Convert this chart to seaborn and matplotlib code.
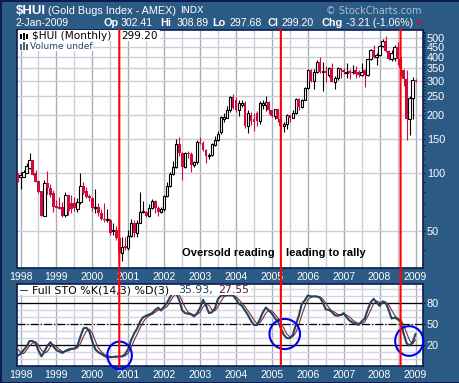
import matplotlib
matplotlib.use('Agg')
import matplotlib.pyplot as plt
import matplotlib.transforms as mtrans
import numpy as np
import pandas as pd
import seaborn as sns
from matplotlib.patches import ConnectionPatch, Ellipse, Rectangle

# monthly bars, Dec 1997 to Jan 2009
opens = [100,
    95, 96, 100, 107, 117, 100, 91, 81, 60, 89, 84, 79,
    68, 67, 67, 61, 77, 70, 70, 65, 71, 86, 81, 76,
    74, 66, 67, 62, 58, 57, 57.5, 50, 51, 46, 38.5, 42,
    41, 47.5, 55.5, 49, 55.5, 63, 63, 60, 66, 72, 66, 63,
    65, 76.5, 86, 99, 108, 141, 127, 108, 127, 126, 110, 114,
    145, 143, 132, 123, 124, 140, 149, 163, 190, 194, 212, 247,
    239, 212, 225, 232, 175, 200, 190, 205, 186, 225, 226, 233,
    213, 198, 214, 190, 176, 180, 200, 194, 205, 243, 220, 240,
    276, 341, 300, 335, 375, 335, 336, 322, 350, 298, 310, 350,
    340, 331, 337, 333, 340, 335, 322, 340, 322, 388, 433, 398,
    408, 455, 482, 428, 392, 395, 450, 392, 341, 308, 191, 245,
    302.41]
highs = [100,
    102, 104, 113, 127, 117, 104, 92, 81, 92, 103, 88, 82,
    73, 75, 71, 80, 77, 77, 75, 74, 100, 90, 85, 78,
    75, 83, 70, 65, 70, 65, 58, 55, 53, 47, 47, 47,
    51, 58, 57, 57, 80, 72, 64, 69, 73.5, 73, 68, 67,
    77, 90, 102, 115, 150, 154, 128, 128, 130, 129, 116, 148,
    154, 146, 134, 127, 143, 155, 165, 197, 205, 222, 250, 258,
    248, 238, 238, 235, 212, 208, 205, 210, 235, 240, 250, 237,
    213, 216, 216, 195, 185, 203, 200, 212, 245, 245, 243, 278,
    345, 345, 345, 385, 400, 375, 360, 355, 370, 320, 355, 352,
    350, 370, 345, 362, 360, 340, 370, 345, 390, 440, 460, 420,
    458, 495, 510, 435, 435, 460, 475, 400, 345, 341, 250, 315,
    308.89]
lows = [90,
    83, 96, 100, 105, 98, 90, 79, 60, 60, 78, 75, 63,
    66, 65, 59, 59, 61, 62, 64, 63, 69, 78, 74, 72,
    64, 62, 60, 57, 56, 56, 48, 48, 45, 36, 35, 40,
    40, 47, 47, 47, 55, 62, 59, 59, 65, 62, 60, 62,
    64, 75, 85, 98, 106, 122, 92, 106, 120, 102, 108, 112,
    141, 130, 113, 118, 122, 138, 147, 160, 185, 192, 208, 214,
    208, 197, 220, 172, 162, 178, 165, 175, 180, 215, 210, 203,
    195, 190, 185, 165, 163, 170, 185, 192, 203, 212, 218, 238,
    274, 295, 272, 330, 330, 266, 297, 315, 295, 272, 305, 312,
    325, 310, 308, 325, 312, 315, 320, 280, 318, 385, 395, 362,
    405, 450, 425, 385, 380, 380, 365, 320, 282, 148, 158, 190,
    297.68]
closes = [90,
    98, 102, 109, 117, 98, 90, 80, 60, 89, 84, 77, 67,
    66, 65, 60, 77, 64, 65, 66, 71, 86, 79, 75, 74,
    66, 67, 62, 58, 57, 58, 49, 51, 46, 38.5, 41.5, 41,
    47.5, 55, 49, 55.5, 63, 63.5, 60, 66, 72, 66, 63, 65,
    76.5, 86, 99, 108, 141, 127, 108, 127, 125, 110, 114, 145,
    143, 132, 123, 124, 141, 149, 160, 195, 196, 212, 247, 217,
    212, 232, 232, 175, 205, 186, 184, 186, 230, 232, 233, 213,
    198, 214, 190, 176, 180, 200, 194, 205, 243, 220, 240, 276,
    341, 300, 335, 375, 335, 337, 330, 350, 298, 310, 350, 342,
    335, 334, 330, 335, 325, 322, 335, 322, 388, 433, 398, 410,
    455, 482, 428, 392, 420, 450, 392, 350, 308, 191, 245, 302,
    299.20]
sto_k = [4.7,
    7.6, 13, 18, 26, 26, 23, 12.3, 4, 11, 19.5, 24.3, 18,
    13, 11, 9, 12, 14, 15, 15, 19, 32, 44, 45, 39.5,
    25, 14, 10, 7.6, 4.7, 3, 3, 3.3, 3.8, 4, 4, 7.6,
    15, 27.6, 37, 44, 54, 60, 62, 64, 65.7, 70.4, 73.3, 69.5,
    75, 81, 88.5, 96.6, 94, 84.7, 70, 65.7, 65, 64, 61, 65.7,
    73, 84.7, 76, 65.7, 67, 73, 86, 90.4, 91, 91, 91, 91,
    85.7, 79, 76, 69.5, 63, 55, 49, 48.5, 57, 67, 73.8, 69.5,
    65, 58.5, 54, 44, 34.7, 30, 30, 34.7, 49, 62, 79, 83.8,
    91, 89.5, 89.5, 89.5, 88, 81, 71, 70.4, 67.6, 62.8, 62, 63,
    65.7, 59.5, 55, 52.3, 50.4, 49, 54, 57.6, 70.4, 81, 86, 81,
    76, 82.3, 81, 70.4, 58, 59.5, 57, 53.8, 37, 23, 19.5, 23.8,
    35.93]
sto_d = [15,
    10, 8, 13, 19, 23, 25, 20, 13, 9, 11, 18, 21,
    18, 14, 11, 11, 12, 14, 15, 16, 22, 32, 40, 43,
    37, 26, 16, 11, 7, 5, 4, 3, 3, 4, 4, 5,
    9, 17, 27, 36, 45, 53, 59, 62, 64, 67, 70, 71,
    73, 75, 82, 89, 93, 92, 83, 74, 67, 65, 63, 64,
    67, 75, 78, 77, 70, 69, 75, 83, 89, 91, 91, 91,
    89, 85, 80, 75, 69, 63, 56, 51, 52, 58, 66, 70,
    69, 64, 59, 52, 44, 36, 32, 32, 38, 49, 63, 75,
    85, 88, 90, 89, 89, 86, 80, 74, 69, 67, 64, 63,
    64, 63, 60, 56, 53, 51, 51, 53, 61, 70, 79, 83,
    81, 80, 80, 78, 70, 63, 58, 57, 49, 38, 27, 22,
    27.55]

years = ['1998', '1999', '2000', '2001', '2002', '2003', '2004', '2005',
         '2006', '2007', '2008', '2009']
price_ticks = [50, 100, 150, 200, 250, 300, 350, 400, 450, 500]
sto_ticks = [20, 50, 80]
signal_months = ['2000-10', '2005-04', '2008-08']

navy = '#0c1c50'
panel = '#2b5a84'
red = '#cc0d3c'

sns.set_theme(style='white')
plt.rcParams['font.family'] = ['Liberation Sans', 'DejaVu Sans']

months = pd.date_range('1997-12-01', '2009-01-01', freq='MS')
df = pd.DataFrame(dict(date=months, open=opens, high=highs, low=lows,
                       close=closes, k=sto_k, d=sto_d))
df['pos'] = np.arange(len(df))
up = df[df['close'] >= df['open']]
down = df[df['close'] < df['open']]
year_pos = df.loc[df['date'].dt.month == 1, 'pos'].to_numpy()
half_pos = df.loc[df['date'].dt.month == 7, 'pos'].to_numpy()

fig = plt.figure(figsize=(4.6, 3.83), dpi=100, facecolor=panel)
fig.patch.set_edgecolor(navy)
fig.patch.set_linewidth(2)
px = mtrans.Affine2D().scale(1, -1).translate(0, 383)


def axes_box(left, top, right, bottom):
    return [left / 460, 1 - bottom / 383, (right - left) / 460, (bottom - top) / 383]


ax1 = fig.add_axes(axes_box(16.8, 29.5, 422.7, 268.3), facecolor='white')
ax2 = fig.add_axes(axes_box(16.8, 283.8, 422.7, 366), facecolor='white')

for ax in (ax1, ax2):
    ax.set_xlim(-0.25, 135.4)
    ax.vlines(half_pos, 0, 1, transform=ax.get_xaxis_transform(), color='#ccccdc', lw=1, zorder=1)
    ax.vlines(year_pos, 0, 1, transform=ax.get_xaxis_transform(), color='#a4aebb', lw=1, zorder=1)
    ax.set_xticks(year_pos, minor=False)
    ax.set_xticks(df['pos'], minor=True)
    ax.set_xticklabels(years, color='white', fontsize=7.6)
    ax.tick_params(axis='x', which='major', length=0, pad=3)
    ax.tick_params(axis='x', which='minor', length=1.5, width=0.7, color=navy)
    ax.yaxis.tick_right()
    for spine in ax.spines.values():
        spine.set_color(navy)
        spine.set_linewidth(1.2)

# price panel
ax1.set_yscale('log')
ax1.set_ylim(32.2, 554)
ax1.set_yticks(price_ticks)
ax1.set_yticklabels([str(t) for t in price_ticks], color='white', fontsize=7.8)
ax1.yaxis.set_minor_locator(plt.FixedLocator(np.arange(40, 550, 10)))
ax1.yaxis.set_minor_formatter(plt.NullFormatter())
ax1.tick_params(axis='y', which='major', length=1.5, width=0.7, color=navy, pad=1.5)
ax1.tick_params(axis='y', which='minor', length=1.5, width=0.7, color=navy)
ax1.hlines(price_ticks, 0, 1, transform=ax1.get_yaxis_transform(), color='#ccccdc', lw=1, zorder=1)

ax1.vlines(up['pos'], up['low'], up['high'], color='black', lw=0.8, zorder=3)
ax1.vlines(down['pos'], down['low'], down['high'], color=red, lw=0.8, zorder=3)
ax1.bar(up['pos'], up['close'] - up['open'], bottom=up['open'], width=0.8,
        facecolor='white', edgecolor='black', lw=0.8, zorder=4)
ax1.bar(down['pos'], down['open'] - down['close'], bottom=down['close'], width=0.95,
        color=red, lw=0, zorder=4)
ax1.set_xlabel('')

# stochastics panel
ax2.set_ylim(-9.6, 107.5)
ax2.set_yticks(sto_ticks)
ax2.set_yticklabels([str(t) for t in sto_ticks], color='white', fontsize=7.8)
ax2.tick_params(axis='y', which='major', length=1.5, width=0.7, color=navy, pad=1.5)
ax2.hlines(np.arange(0, 110, 10), 0, 1, transform=ax2.get_yaxis_transform(), color='#d4d4e2', lw=1, zorder=1)
ax2.axhline(80, color='black', lw=0.9, zorder=2)
ax2.axhline(20, color='black', lw=0.9, zorder=2)
ax2.axhline(50, color='black', lw=0.9, ls='-.', zorder=2)
sns.lineplot(data=df, x='pos', y='d', ax=ax2, color='#7c2d3e', lw=0.8, legend=False,
             estimator=None, zorder=3)
sns.lineplot(data=df, x='pos', y='k', ax=ax2, color='#27435e', lw=1.5, legend=False,
             estimator=None, zorder=4)
ax2.set_xlabel('')
ax2.set_ylabel('')
ax1.set_ylabel('')
ax2.yaxis.tick_right()

# header
head = dict(transform=px, color='white', va='center', ha='left')
fig.text(16, 10.5, '$HUI', fontsize=9.5, fontweight='bold', **head).set_parse_math(False)
fig.text(48, 10.5, '(Gold Bugs Index - AMEX)', fontsize=7.8, **head)
fig.text(180, 10.5, 'INDX', fontsize=6.8, family='DejaVu Sans', **head)
fig.text(16, 23.5, '2-Jan-2009', fontsize=7.6, **head)
for x, label in [(103, 'Op'), (160, 'Hi'), (212, 'Lo'), (268, 'Cl'), (321, 'Chg')]:
    fig.text(x, 23.5, label, fontsize=7.8, fontweight='bold', **head)
for x, label in [(120.5, '302.41'), (176.5, '308.89'), (230, '297.68'), (282, '299.20'),
                 (345.5, '-3.21 (-1.06%)')]:
    fig.text(x, 23.5, label, fontsize=7.6, **head)
fig.text(422, 10.5, '\u00a9 StockCharts.com', fontsize=7, family='DejaVu Sans',
         transform=px, color='#a9bed2', va='center', ha='right')
fig.text(418.5, 23.5, '\u25bc', fontsize=5, family='DejaVu Sans', transform=px, color=red,
         va='center', ha='center')

# chart legends, white boxes hide the grid behind them
for x, y, w, h in [(17.5, 30.2, 142, 10.5), (17.5, 40.7, 75, 10), (17.5, 284.5, 233, 10.5)]:
    fig.add_artist(Rectangle((x, y), w, h, transform=px, facecolor='white', edgecolor='none', zorder=4))
fig.text(31.5, 36.3, '$HUI (Monthly)', fontsize=7.6, family='DejaVu Sans', transform=px,
         color='black', va='center', zorder=5).set_parse_math(False)
fig.text(121, 36.3, '299.20', fontsize=7.6, family='DejaVu Sans', transform=px, color='black',
         va='center', zorder=5)
fig.text(30, 46.5, 'Volume undef', fontsize=6.5, family='DejaVu Sans', transform=px,
         color='#27435e', va='center', zorder=5)
for x, h in [(20, 5), (23, 7), (26, 5)]:
    fig.add_artist(Rectangle((x, 36 - h / 2), 1.6, h, transform=px, facecolor='black', edgecolor='none', zorder=6))
for x, h in [(20, 6), (23, 8), (26, 6)]:
    fig.add_artist(Rectangle((x, 50 - h), 2, h, transform=px, facecolor='#4a6480', edgecolor='none', zorder=6))

fig.add_artist(Rectangle((19.5, 289.5), 8, 1.6, transform=px, facecolor='#27435e', edgecolor='none', zorder=6))
fig.text(31.5, 290.3, 'Full STO %K(14,3) %D(3)', fontsize=7.9, family='DejaVu Sans', transform=px,
         color='black', va='center', zorder=5)
fig.text(178.5, 290.3, '35.93,', fontsize=7.9, family='DejaVu Sans', transform=px,
         color='#27435e', va='center', zorder=5)
fig.text(218, 290.3, '27.55', fontsize=7.9, family='DejaVu Sans', transform=px,
         color='#5c1e30', va='center', zorder=5)

# annotation text
fig.text(181.5, 252.5, 'Oversold reading', fontsize=8.1, fontweight='bold', transform=px,
         color='black', va='center', zorder=5)
fig.text(285.5, 252.5, 'leading to rally', fontsize=8.1, fontweight='bold', transform=px,
         color='black', va='center', zorder=5)

# signal lines and circles
for month in signal_months:
    pos = df.loc[df['date'] == pd.Timestamp(month + '-01'), 'pos'].iloc[0]
    con = ConnectionPatch(xyA=(pos, 1), coordsA=ax1.get_xaxis_transform(),
                          xyB=(pos, 0.01), coordsB=ax2.get_xaxis_transform(),
                          color='#ff0000', lw=1.5, zorder=8)
    fig.add_artist(con)

for center, size in [((34.1, 5.7), (8.2, 39)), ((89.3, 36), (10.2, 43)), ((130.9, 26), (9.4, 42.3))]:
    ax2.add_patch(Ellipse(center, size[0], size[1], facecolor='none', edgecolor='#0000ee',
                          lw=1.5, clip_on=False, zorder=9))

fig.savefig('out.png', dpi=100)
